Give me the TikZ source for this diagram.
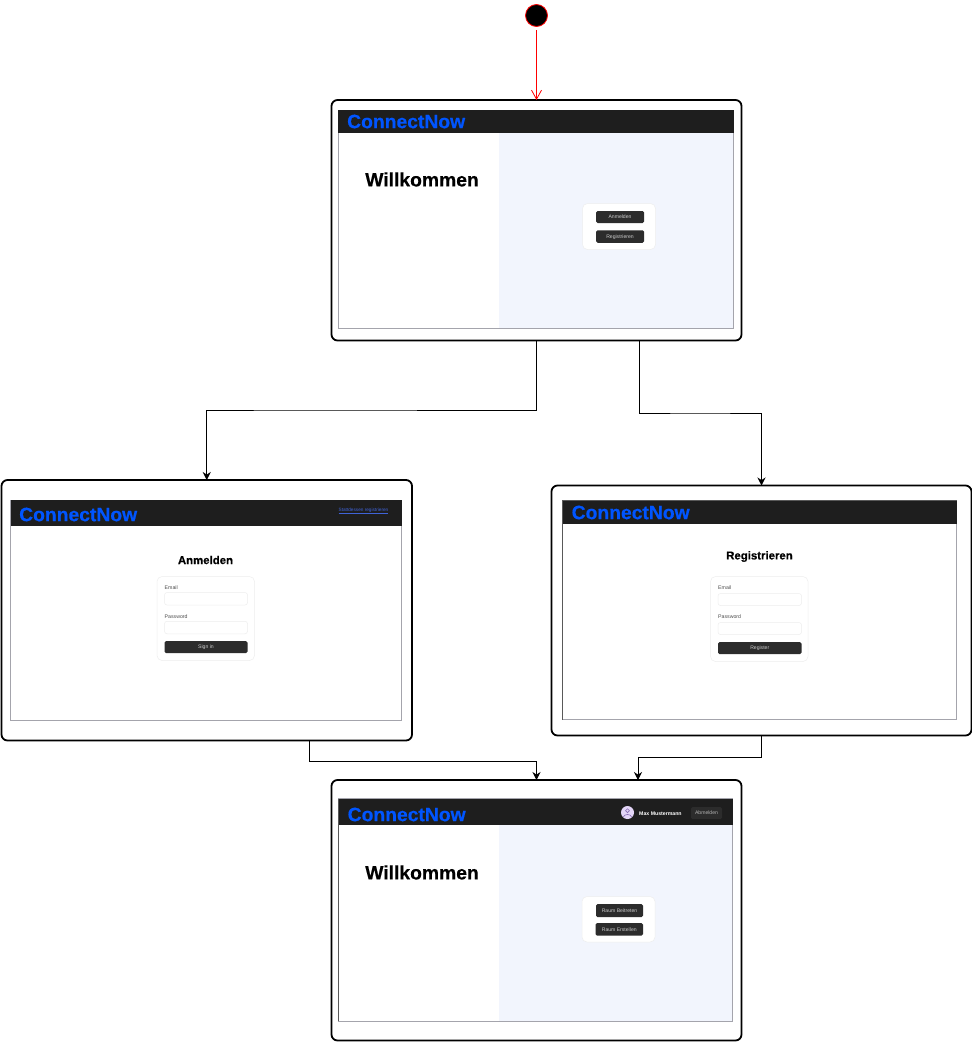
\documentclass[tikz,border=0pt]{standalone}
\usepackage{fontspec}
\setmainfont{Liberation Sans}
\newfontfamily\heavyfont[FakeBold=0.5]{Liberation Sans Bold}
\usetikzlibrary{arrows.meta}
\definecolor{headdark}{HTML}{1E1E1E}
\definecolor{btndark}{HTML}{2C2C2C}
\definecolor{logoblue}{HTML}{0055FF}
\definecolor{linkblue}{HTML}{3F63D8}
\definecolor{panelblue}{HTML}{F2F5FD}
\definecolor{edgegray}{HTML}{A4A4AC}
\definecolor{cardedge}{HTML}{EEEEEE}
\definecolor{avatarlilac}{HTML}{E3D5F7}
\definecolor{avatarpurple}{HTML}{8A6FB5}
\tikzset{
	size/.style 2 args={minimum width=#1,minimum height=#2},
	frame/.style={draw=black,fill=white,line width=1.8pt,rounded corners=6pt,inner sep=0pt,outer sep=0pt},
	screen/.style={draw=edgegray,fill=white,line width=0.8pt,inner sep=0pt,outer sep=0pt},
	header/.style={fill=headdark,inner sep=0pt,outer sep=0pt},
	panel/.style={fill=panelblue,inner sep=0pt,outer sep=0pt},
	card/.style={draw=cardedge,fill=white,line width=0.5pt,rounded corners=5pt,inner sep=0pt},
	field/.style={draw=cardedge,fill=white,line width=0.5pt,rounded corners=2.5pt,inner sep=0pt},
	btn/.style={fill=btndark,rounded corners=1.5pt,inner sep=0pt,text height=4.1pt,text depth=0.5pt,text=white!80!black,font=\fontsize{5.1}{6}\selectfont},
	logo/.style={anchor=west,inner sep=0pt,text=logoblue,font=\fontsize{19.3}{22}\heavyfont},
	bigtitle/.style={inner sep=0pt,font=\fontsize{19.3}{22}\heavyfont},
	formtitle/.style={inner sep=0pt,font=\fontsize{11.4}{13}\heavyfont},
	label/.style={anchor=west,inner sep=0pt,text=black!70,font=\fontsize{5.2}{6}\selectfont},
	darkedge/.style={draw=black!65,line width=1pt},
	flow/.style={draw=black,line width=0.8pt,-{Stealth[length=8pt,width=8pt]}},
	startflow/.style={draw=red,line width=0.8pt,-{Straight Barb[length=9pt,width=10pt]}}
}
\begin{document}
\begin{tikzpicture}[x=1pt,y=-1pt]
	\useasboundingbox (0,0) rectangle (972,1042);

	\node[circle,draw=red,fill=black,line width=0.8pt,minimum size=22,inner sep=0pt,outer sep=0pt] (start) at (536.5,15.5) {};
	\coordinate (startout) at (536.5,30);

	\node[frame,size={410}{240.5}] (welcome) at (536.5,220.25) {};
	\node[screen,size={395.5}{218.5}] (welcomescreen) at (535.75,219.25) {};
	\node[panel,size={234}{195.5}] (welcomepanel) at (616,230.25) {};
	\node[header,size={395.5}{22.5}] (welcomehead) at (535.75,121.25) {};
	\node[logo] (welcomelogo) at (347,121.5) {ConnectNow};
	\node[bigtitle] (welcometitle) at (422,179.5) {Willkommen};
	\node[card,size={73}{46}] (welcomecard) at (619,226.5) {};
	\node[btn,size={48}{12}] (btnlogin) at (620,217) {Anmelden};
	\node[btn,size={48}{12.5}] (btnregister) at (620,236.5) {Registrieren};

	\node[frame,size={410.5}{260.5}] (login) at (206.75,610.25) {};
	\node[screen,size={391}{220.5}] (loginscreen) at (206,610.25) {};
	\node[header,size={391}{26}] (loginhead) at (206,513) {};
	\node[logo] (loginlogo) at (19,514.5) {ConnectNow};
	\node[anchor=east,inner sep=0pt,text=linkblue,font=\fontsize{4.7}{6}\selectfont] (loginlink) at (388.5,511) {\underline{Stattdessen registrieren}};
	\node[formtitle] (logintitle) at (205.5,560) {Anmelden};
	\node[card,size={97.5}{84}] (logincard) at (205.75,618.5) {};
	\node[label] (loginmail) at (164.5,587.5) {Email};
	\node[field,size={83}{12.5}] (loginmailbox) at (206,598.75) {};
	\node[label] (loginpass) at (164.5,616.5) {Password};
	\node[field,size={83}{12.5}] (loginpassbox) at (206,627.5) {};
	\node[btn,size={83}{12}] (loginbtn) at (206,647) {Sign in};

	\node[frame,size={420}{250}] (register) at (761.5,610.5) {};
	\node[screen,size={394.5}{219.5}] (regscreen) at (759.25,609.75) {};
	\node[header,size={394.5}{24}] (reghead) at (759.25,512) {};
	\node[logo] (reglogo) at (571.5,512.5) {ConnectNow};
	\node[formtitle] (regtitle) at (759.5,556.5) {Registrieren};
	\node[card,size={97.5}{85}] (regcard) at (759.25,619) {};
	\node[label] (regmail) at (718,588) {Email};
	\node[field,size={83.5}{12}] (regmailbox) at (759.75,599.5) {};
	\node[label] (regpass) at (718,617) {Password};
	\node[field,size={83.5}{12}] (regpassbox) at (759.75,628.5) {};
	\node[btn,size={83.5}{12}] (regbtn) at (759.75,648) {Register};
	\draw[darkedge] (regscreen.north west) -- (regscreen.south west);
	\draw[darkedge] (regscreen.north west) -- (regscreen.north east);

	\node[frame,size={410}{260.5}] (room) at (536.5,910.25) {};
	\node[screen,size={394.5}{222.5}] (roomscreen) at (535.25,909.75) {};
	\node[panel,size={233.5}{196}] (roompanel) at (615.25,923) {};
	\node[header,size={394.5}{26.5}] (roomhead) at (535.25,811.75) {};
	\node[logo] (roomlogo) at (347.5,814.5) {ConnectNow};
	\node[bigtitle] (roomtitle) at (422,872.5) {Willkommen};
	\node[circle,fill=avatarlilac,minimum size=13,inner sep=0pt] (avatar) at (627.5,812.5) {};
	\draw[avatarpurple,line width=0.6pt] (627.5,810.7) circle (1.9);
	\draw[avatarpurple,line width=0.6pt] (623.3,817) .. controls (624.5,813.6) and (630.5,813.6) .. (631.7,817);
	\node[anchor=west,inner sep=0pt,text=white,font=\fontsize{5.2}{6}\selectfont\bfseries] (username) at (639,813.5) {Max Mustermann};
	\node[fill=white!6!headdark,rounded corners=1.5pt,inner sep=0pt,size={31}{12},text height=4.1pt,text depth=0.5pt,text=white!70!black,font=\fontsize{5.1}{6}\selectfont] (btnlogout) at (706.5,813) {Abmelden};
	\node[card,size={73}{45.5}] (roomcard) at (618.5,919.25) {};
	\node[btn,size={47}{13}] (btnjoin) at (619.5,910.5) {Raum Beitreten};
	\node[btn,size={47.5}{12.5}] (btncreate) at (619.25,929.25) {Raum Erstellen};
	\draw[darkedge] (roomscreen.north west) -- (roomscreen.south west);

	\coordinate (welcomeout) at (639,340.5);
	\coordinate (loginout) at (309,740.5);
	\coordinate (roomin) at (638,780);
	\coordinate (bendleft) at (300,410);
	\coordinate (bendright) at (700,413);
	\coordinate (bendlogin) at (400,761);
	\coordinate (bendreg) at (700,757.5);

	\draw[startflow] (startout) -- (welcome.north);
	\draw[flow] (welcome.south) |- (bendleft) -| (login.north);
	\draw[flow] (welcomeout) |- (bendright) -| (register.north);
	\draw[flow] (loginout) |- (bendlogin) -| (room.north);
	\draw[flow] (register.south) |- (bendreg) -| (roomin);
\end{tikzpicture}
\end{document}
